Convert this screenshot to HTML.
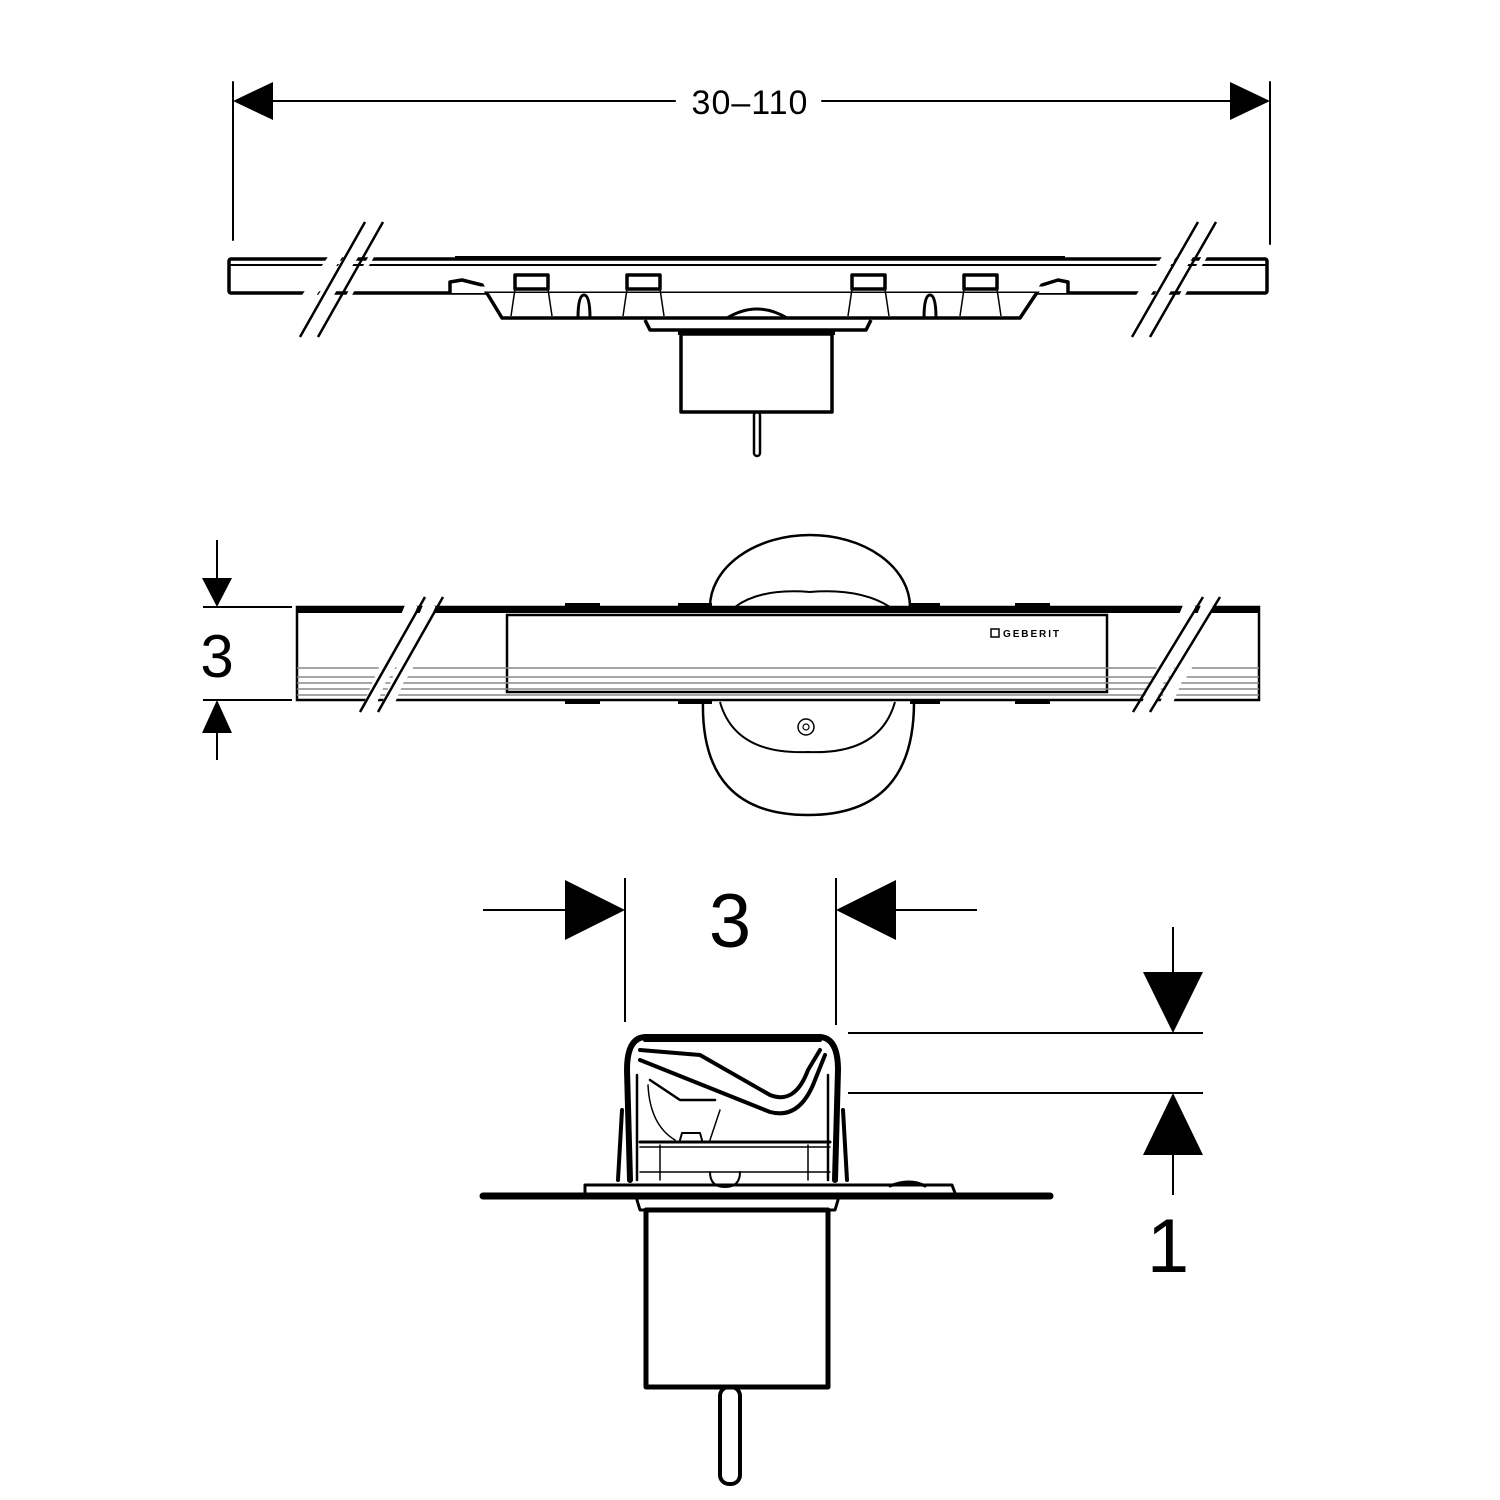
<!DOCTYPE html>
<html><head><style>html,body{margin:0;padding:0;background:#fff}svg{display:block}</style></head>
<body>
<svg width="1500" height="1500" viewBox="0 0 1500 1500" xmlns="http://www.w3.org/2000/svg" font-family="Liberation Sans, sans-serif">
<g stroke="#000" fill="none" stroke-linecap="round" stroke-linejoin="round">
<line x1="233" y1="82" x2="233" y2="240" stroke-width="2"/>
<line x1="1270" y1="82" x2="1270" y2="244" stroke-width="2"/>
<line x1="270" y1="101" x2="675" y2="101" stroke-width="2"/>
<line x1="822" y1="101" x2="1232" y2="101" stroke-width="2"/>
</g>
<polygon points="233,101 273,82 273,120" fill="#000"/>
<polygon points="1270,101 1230,82 1230,120" fill="#000"/>
<text x="750" y="114" font-size="34" text-anchor="middle" letter-spacing="1">30–110</text>

<!-- top view -->
<g stroke="#000" fill="none" stroke-linejoin="round">
<rect x="229" y="259" width="1038" height="34" stroke-width="3.5" rx="2"/>
<line x1="229" y1="265" x2="1267" y2="265" stroke-width="2"/>
<line x1="455" y1="258" x2="1065" y2="258" stroke-width="4"/>
<path d="M450 293 L450 282 L462 280 L482 285 L502 318 L1020 318 L1042 285 L1058 280 L1068 282 L1068 293" fill="#fff" stroke-width="3.5"/>
<line x1="454" y1="289" x2="1064" y2="289" stroke="#fff" stroke-width="5"/>
<path d="M578 318 Q578 295 584 295 Q590 295 590 318" stroke-width="3"/>
<path d="M924 318 Q924 295 930 295 Q936 295 936 318" stroke-width="3"/>
<g stroke-width="3.5" fill="#fff">
<rect x="515" y="275" width="33" height="14"/><rect x="627" y="275" width="33" height="14"/>
<rect x="852" y="275" width="33" height="14"/><rect x="964" y="275" width="33" height="14"/>
</g>
<g stroke-width="1.5">
<path d="M515 289 L511 316 M548 289 L552 316 M627 289 L623 316 M660 289 L664 316 M852 289 L848 316 M885 289 L889 316 M964 289 L960 316 M997 289 L1001 316"/>
</g>
<path d="M645 320 L650 330 L866 330 L871 320" stroke-width="3.5" fill="#fff"/>
<path d="M727 318 Q757 300 787 318" stroke-width="3"/>
<rect x="681" y="334" width="151" height="78" stroke-width="3.5" fill="#fff"/>
<line x1="678" y1="333" x2="835" y2="333" stroke-width="4"/>
<rect x="754" y="412" width="6" height="44" rx="3" stroke-width="2.5"/>
</g>
<g stroke-linecap="butt">
<path d="M322 300 L372 226 M306 300 L356 226" stroke="#fff" stroke-width="12"/>
<path d="M1158 300 L1206 226 M1140 300 L1190 226" stroke="#fff" stroke-width="12"/>
<g stroke="#000" stroke-width="2.5">
<line x1="383" y1="222" x2="318" y2="337"/><line x1="365" y1="222" x2="300" y2="337"/>
<line x1="1216" y1="222" x2="1150" y2="337"/><line x1="1198" y1="222" x2="1132" y2="337"/>
</g>
<path d="M356 252 L330 297 M374 252 L348 297 M1189 252 L1163 297 M1207 252 L1181 297" stroke="#fff" stroke-width="5"/>
</g>

<!-- middle view -->
<g stroke="#000" fill="none">
<path d="M710 607 A100 72 0 0 1 910 607" stroke-width="2.5"/>
<path d="M703 700 Q700 815 808 815 Q915 815 914 700" stroke-width="2.5"/>
<path d="M735 607 Q760 588 810 592 Q860 588 890 607" stroke-width="2"/>
<path d="M720 702 Q735 755 808 752 Q880 755 895 702" stroke-width="2"/>
<circle cx="806" cy="727" r="8" stroke-width="1.5"/><circle cx="806" cy="727" r="3" stroke-width="1.2"/>
<rect x="297" y="607" width="962" height="93" fill="#fff" stroke-width="2.5"/>
<rect x="297" y="607" width="962" height="6" fill="#000" stroke="none"/>
<rect x="507" y="615" width="600" height="77" stroke-width="2.5"/>
<g stroke="#888" stroke-width="1.5">
<line x1="297" y1="668" x2="1259" y2="668"/><line x1="297" y1="677" x2="1259" y2="677"/>
<line x1="297" y1="683" x2="1259" y2="683"/><line x1="297" y1="689" x2="1259" y2="689"/><line x1="297" y1="695" x2="1259" y2="695"/>
</g>
<g stroke-width="4">
<line x1="565" y1="605" x2="600" y2="605"/><line x1="678" y1="605" x2="712" y2="605"/><line x1="910" y1="605" x2="940" y2="605"/><line x1="1015" y1="605" x2="1050" y2="605"/>
<line x1="565" y1="702" x2="600" y2="702"/><line x1="678" y1="702" x2="712" y2="702"/><line x1="910" y1="702" x2="940" y2="702"/><line x1="1015" y1="702" x2="1050" y2="702"/>
</g>
<rect x="991" y="629" width="8" height="8" stroke-width="1.5"/>
</g>
<text x="1003" y="637" font-size="10" font-weight="bold" textLength="56">GEBERIT</text>
<g stroke-linecap="butt">
<path d="M412 604 L370 704 M430 604 L388 704" stroke="#fff" stroke-width="12"/>
<path d="M1190 604 L1148 704 M1208 604 L1166 704" stroke="#fff" stroke-width="12"/>
<g stroke="#000" stroke-width="2.5">
<line x1="443" y1="597" x2="378" y2="712"/><line x1="425" y1="597" x2="360" y2="712"/>
<line x1="1220" y1="597" x2="1150" y2="712"/><line x1="1203" y1="597" x2="1133" y2="712"/>
</g>
<path d="M414 630 L385 680 M432 630 L403 680 M1193 630 L1164 680 M1211 630 L1182 680" stroke="#fff" stroke-width="5"/>
</g>
<g stroke="#000" stroke-width="2">
<line x1="217" y1="540" x2="217" y2="580"/><line x1="217" y1="730" x2="217" y2="760"/>
<line x1="203" y1="607" x2="292" y2="607"/><line x1="203" y1="700" x2="292" y2="700"/>
</g>
<polygon points="217,607 202,578 232,578" fill="#000"/>
<polygon points="217,700 202,733 232,733" fill="#000"/>
<text x="217" y="677" font-size="60" text-anchor="middle">3</text>

<!-- bottom dimensions -->
<g stroke="#000" stroke-width="2">
<line x1="483" y1="910" x2="568" y2="910"/><line x1="893" y1="910" x2="977" y2="910"/>
<line x1="625" y1="878" x2="625" y2="1022"/><line x1="836" y1="878" x2="836" y2="1025"/>
<line x1="1173" y1="927" x2="1173" y2="975"/><line x1="1173" y1="1150" x2="1173" y2="1195"/>
<line x1="848" y1="1033" x2="1203" y2="1033"/><line x1="848" y1="1093" x2="1203" y2="1093"/>
</g>
<polygon points="625,910 565,880 565,940" fill="#000"/>
<polygon points="836,910 896,880 896,940" fill="#000"/>
<polygon points="1173,1033 1143,972 1203,972" fill="#000"/>
<polygon points="1173,1093 1143,1155 1203,1155" fill="#000"/>
<text x="730" y="947" font-size="76" text-anchor="middle">3</text>
<text x="1168" y="1272" font-size="76" text-anchor="middle">1</text>

<!-- bottom object -->
<g stroke="#000" fill="none" stroke-linejoin="round" stroke-linecap="round">
<path d="M630 1180 L627 1070 Q627 1038 645 1037 L820 1037 Q838 1038 838 1070 L835 1180" stroke-width="6"/>
<line x1="645" y1="1040" x2="820" y2="1040" stroke-width="4"/>
<path d="M637 1075 L637 1180 M828 1075 L828 1180" stroke-width="2.5"/>
<path d="M640 1050 L700 1055 L770 1095 Q795 1105 808 1070 L820 1050" stroke-width="4"/>
<path d="M640 1060 L770 1112 Q800 1120 815 1080 L825 1055" stroke-width="4"/>
<path d="M650 1080 L680 1100 L715 1100" stroke-width="2.5"/>
<path d="M648 1085 Q650 1125 675 1140 M720 1110 L710 1140" stroke-width="1.5"/>
<line x1="640" y1="1142" x2="830" y2="1142" stroke-width="3"/>
<line x1="640" y1="1147" x2="830" y2="1147" stroke-width="1.5"/>
<path d="M680 1140 L682 1133 L700 1133 L702 1140" stroke-width="2"/>
<line x1="640" y1="1172" x2="830" y2="1172" stroke-width="1.5"/>
<path d="M660 1145 L660 1180 M808 1145 L808 1180" stroke-width="1.5"/>
<path d="M710 1172 Q710 1187 725 1187 Q740 1187 740 1172" stroke-width="2"/>
<path d="M622 1110 L618 1180 M843 1110 L847 1180" stroke-width="4"/>
<path d="M585 1193 L585 1185 L952 1185 L955 1193" stroke-width="3"/>
<path d="M890 1186 Q910 1178 925 1186" stroke-width="3"/>
<line x1="483" y1="1196" x2="1050" y2="1196" stroke-width="7"/>
<path d="M637 1200 L640 1210 L835 1210 L838 1200" stroke-width="3"/>
<rect x="646" y="1210" width="182" height="177" stroke-width="5"/>
<rect x="720" y="1387" width="20" height="97" rx="9" stroke-width="4"/>
</g>
</svg>
</body></html>
